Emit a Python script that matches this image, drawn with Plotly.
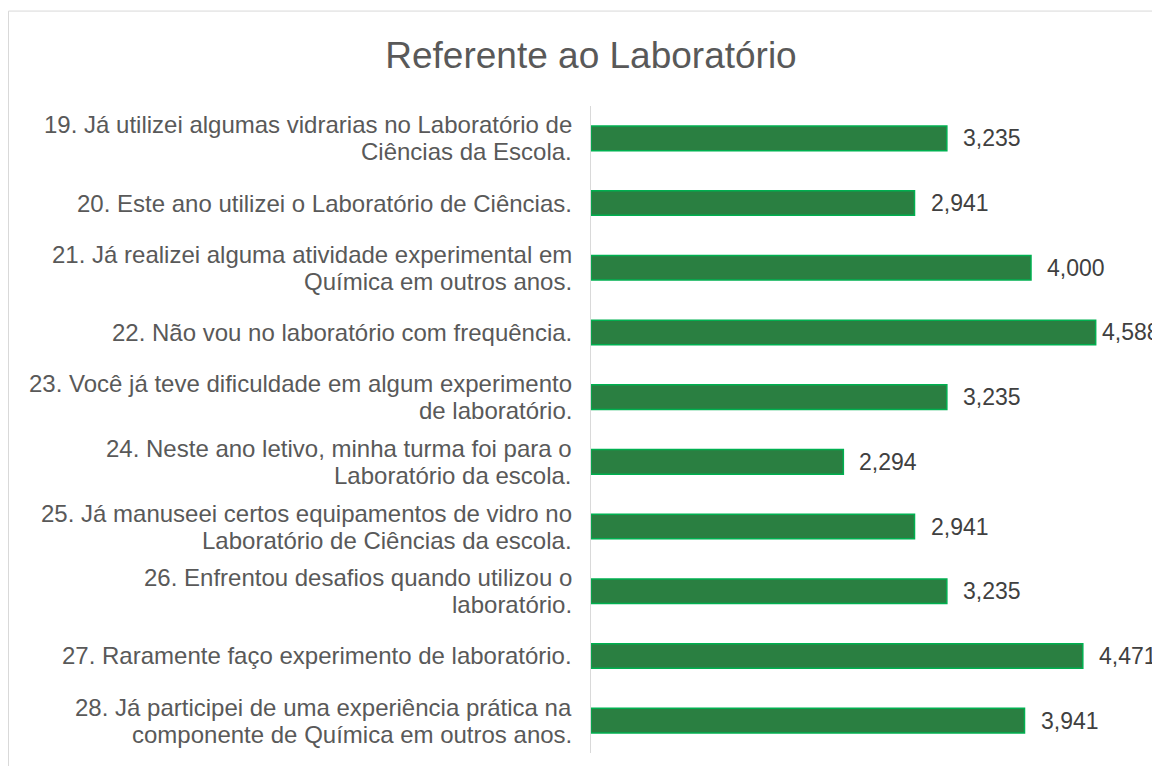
import plotly.graph_objects as go

categories = [
    "19. Já utilizei algumas vidrarias no Laboratório de<br>Ciências da Escola.",
    "20. Este ano utilizei o Laboratório de Ciências.",
    "21. Já realizei alguma atividade experimental em<br>Química em outros anos.",
    "22. Não vou no laboratório com frequência.",
    "23. Você já teve dificuldade em algum experimento<br>de laboratório.",
    "24. Neste ano letivo, minha turma foi para o<br>Laboratório da escola.",
    "25. Já manuseei certos equipamentos de vidro no<br>Laboratório de Ciências da escola.",
    "26. Enfrentou desafios quando utilizou o<br>laboratório.",
    "27. Raramente faço experimento de laboratório.",
    "28. Já participei de uma experiência prática na<br>componente de Química em outros anos.",
]
values = [3.235, 2.941, 4.000, 4.588, 3.235, 2.294, 2.941, 3.235, 4.471, 3.941]
title_text = "Referente ao Laboratório"

# page body has an 8px margin, so the figure is sized to fit the window
W, H = 1152, 758
L, R, T, B = 583, 19, 97.5, 13
FONT = "Liberation Sans, Arial, sans-serif"
LINE_GAP = 27  # px between the lines of a wrapped category label

fig = go.Figure(
    go.Bar(
        y=categories,
        x=values,
        orientation="h",
        marker=dict(color="#2A7F41", line=dict(color="#00B050", width=1.5)),
        hoverinfo="x",
    )
)

annotations = []
for c, v in zip(categories, values):
    # value labels
    annotations.append(dict(
        x=v, y=c, xref="x", yref="y",
        text=f"{v:.3f}".replace(".", ","),
        showarrow=False, xanchor="left", yanchor="middle",
        xshift=14 if v < 4.5 else 4,
        font=dict(family=FONT, size=23, color="#404040"),
    ))
    # category labels, one annotation per line for tighter line spacing
    lines = c.split("<br>")
    n = len(lines)
    for i, line in enumerate(lines):
        annotations.append(dict(
            x=0, y=c, xref="paper", yref="y",
            text=line, showarrow=False, xanchor="right", yanchor="middle",
            xshift=-18, yshift=((n - 1) / 2 - i) * LINE_GAP, borderpad=0,
            font=dict(family=FONT, size=24, color="#595959"),
        ))

pw = W - L - R
ph = H - T - B
fig.update_layout(
    width=W, height=H,
    margin=dict(l=L, r=R, t=T, b=B),
    paper_bgcolor="white", plot_bgcolor="white",
    bargap=0.62,
    showlegend=False,
    separators=",.",
    font=dict(family=FONT, color="#595959"),
    title=dict(
        text=title_text, x=583 / W, xref="container", xanchor="center",
        y=1 - 47 / H, yref="container", yanchor="middle",
        font=dict(size=37, color="#595959"),
    ),
    xaxis=dict(range=[0, 5], visible=False, showgrid=False, zeroline=False),
    yaxis=dict(
        autorange="reversed", showline=True, linecolor="#D9D9D9", linewidth=1,
        ticks="", showgrid=False, showticklabels=False,
    ),
    annotations=annotations,
    shapes=[dict(
        type="rect", xref="paper", yref="paper",
        x0=(0.5 - L) / pw, x1=(W + 20 - L) / pw,
        y0=-(B + 20) / ph, y1=(H - B - 2.5) / ph,
        line=dict(color="#D9D9D9", width=1), fillcolor="rgba(0,0,0,0)",
        layer="below",
    )],
)

fig.write_html("out.html")
